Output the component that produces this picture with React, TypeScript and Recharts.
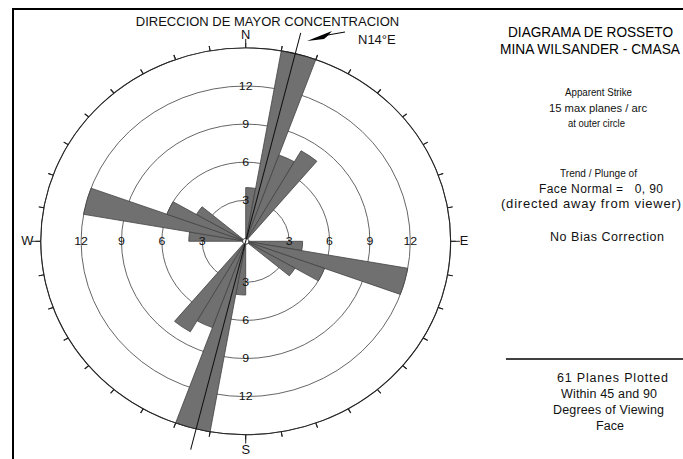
import React from 'react';
import { RadialBarChart, RadialBar, PolarAngleAxis, PolarRadiusAxis, PolarGrid } from 'recharts';

// rumbo de inicio de cada intervalo de 10° (azimut, sentido horario desde N)
const bins = [
  '0', '10', '20', '30', '40', '50', '60', '70', '80',
  '90', '100', '110', '120', '130', '140', '150', '160', '170',
  '180', '190', '200', '210', '220', '230', '240', '250', '260',
  '270', '280', '290', '300', '310', '320', '330', '340', '350',
];

const planos = [
  4, 15, 7, 8, 0, 0, 0, 0, 0,
  4, 12, 6, 4, 0, 0, 0, 0, 0,
  4, 15, 7, 8, 0, 0, 0, 0, 0,
  4, 12, 6, 4, 0, 0, 0, 0, 0,
];

const ringTicks = [3, 6, 9, 12, 15];
const ringLabels = [3, 6, 9, 12];
const cardinal: Record<number, string> = { 0: 'N', 90: 'E', 180: 'S', 270: 'W' };

const maxDir = 14; // N14°E

const FONT = '"Liberation Sans", Arial, Helvetica, sans-serif';
const CX = 245.7;
const CY = 241.3;
const R = 199;
const R0 = 3;

const data = bins.map((b, i) => ({ rumbo: b, planos: planos[i] }));

// marcas cada 10° en el círculo exterior + letras de los puntos cardinales
const CompassTick = (props: any) => {
  const x = Number(props.x);
  const y = Number(props.y);
  const ang = Number(props.payload.coordinate);
  const a = (ang * Math.PI) / 180;
  const dx = Math.cos(a);
  const dy = -Math.sin(a);
  const az = Math.round((((90 - ang) % 360) + 360) % 360) % 360;
  const label = cardinal[az];
  const ext = label ? 4 : 0;
  const d = `M${(x - dx * 5).toFixed(2)},${(y - dy * 5).toFixed(2)}L${(x + dx * ext).toFixed(2)},${(y + dy * ext).toFixed(2)}`;
  const off = label === 'S' ? 11 : 8;
  return (
    <g>
      <path d={d} stroke="#222" strokeWidth={1} fill="none" />
      {label && (
        <text x={x + dx * off} y={y + dy * off} textAnchor="middle" dominantBaseline="central" fontSize={12.5} fontFamily={FONT} fill="#111">
          {label}
        </text>
      )}
    </g>
  );
};

// etiquetas de los anillos en las cuatro direcciones
const RingTick = (props: any) => {
  const { x, y, payload } = props;
  if (!ringLabels.includes(payload.value)) return null;
  const r = payload.coordinate;
  const cx = x;
  const cy = y + r;
  const pts = [
    [cx, cy - r],
    [cx + r, cy],
    [cx, cy + r],
    [cx - r, cy],
  ];
  return (
    <g>
      {pts.map(([px, py], i) => (
        <text key={i} x={px} y={py} textAnchor="middle" dominantBaseline="central" fontSize={12} fontFamily={FONT} fill="#111">
          {payload.value}
        </text>
      ))}
    </g>
  );
};

const App: React.FC = () => {
  const rad = (maxDir * Math.PI) / 180;
  const L = R * 1.11;
  const ux = Math.sin(rad);
  const uy = -Math.cos(rad);

  return (
    <div style={{ position: 'absolute', left: 0, top: 0, width: 683, height: 459, background: '#fff', overflow: 'hidden', fontFamily: FONT }}>
      <div
        style={{
          position: 'absolute',
          left: 0,
          top: 0,
          width: 500,
          height: 490,
          transform: 'scale(1.03, 0.972)',
          transformOrigin: `${CX}px ${CY}px`,
        }}
      >
        <RadialBarChart
          width={500}
          height={490}
          data={data}
          cx={CX}
          cy={CY}
          innerRadius={R0}
          outerRadius={R}
          startAngle={80}
          endAngle={-280}
          layout="centric"
          barCategoryGap={0}
          barGap={0}
          margin={{ top: 0, right: 0, bottom: 0, left: 0 }}
        >
          <PolarGrid gridType="circle" radialLines={false} stroke="#555" strokeWidth={0.9} />
          <PolarRadiusAxis
            type="number"
            angle={90}
            domain={[0, 15]}
            ticks={ringTicks}
            allowDataOverflow
            axisLine={false}
            tickLine={false}
            tick={RingTick}
          />
          <RadialBar dataKey="planos" fill="#707070" stroke="#444" strokeWidth={0.8} isAnimationActive={false} />
          <PolarAngleAxis
            type="category"
            dataKey="rumbo"
            ticks={bins}
            stroke="#222"
            axisLineType="circle"
            axisLine={{ stroke: '#222', strokeWidth: 1 }}
            tickLine={{ stroke: '#222', strokeWidth: 1 }}
            tickSize={5}
            tick={CompassTick}
          />
        </RadialBarChart>
        <svg width={500} height={490} style={{ position: 'absolute', left: 0, top: 0, pointerEvents: 'none' }}>
          <line x1={CX + ux * L} y1={CY + uy * L} x2={CX - ux * L} y2={CY - uy * L} stroke="#111" strokeWidth={1} />
        </svg>
      </div>

      <svg width={683} height={459} style={{ position: 'absolute', left: 0, top: 0, pointerEvents: 'none' }} fontFamily={FONT}>
        <line x1={12} y1={9} x2={683} y2={9} stroke="#000" strokeWidth={2} />
        <line x1={13} y1={8} x2={13} y2={459} stroke="#000" strokeWidth={2} />
        <line x1={506} y1={359} x2={683} y2={359} stroke="#000" strokeWidth={1.5} />

        <text x={267.5} y={26} textAnchor="middle" fontSize={13} fill="#111">DIRECCION DE MAYOR CONCENTRACION</text>
        <text x={358} y={44} fontSize={13} fill="#111">N14°E</text>
        <polygon points="307,41 332,31 327,36.5 324,39" fill="#000" />
        <line x1={322} y1={36} x2={345} y2={32} stroke="#000" strokeWidth={1} />

        <g fill="#000" textAnchor="middle" fontSize={14}>
          <text x={590.5} y={37} textLength={165} lengthAdjust="spacingAndGlyphs">DIAGRAMA DE ROSSETO</text>
          <text x={590} y={54} textLength={180} lengthAdjust="spacingAndGlyphs">MINA WILSANDER - CMASA</text>
        </g>
        <g fill="#111" textAnchor="middle" fontSize={11.5}>
          <text x={598.5} y={96} textLength={67} lengthAdjust="spacingAndGlyphs">Apparent Strike</text>
          <text x={598} y={112} textLength={98} lengthAdjust="spacingAndGlyphs">15 max planes / arc</text>
          <text x={596.5} y={127} textLength={57} lengthAdjust="spacingAndGlyphs">at outer circle</text>
          <text x={598.5} y={177} textLength={77} lengthAdjust="spacingAndGlyphs">Trend / Plunge of</text>
          <text x={601} y={193} fontSize={12} textLength={124} lengthAdjust="spacing" style={{ whiteSpace: 'pre' }}>Face Normal =   0, 90</text>
          <text x={501} y={208} fontSize={13} textAnchor="start" textLength={180} lengthAdjust="spacing">(directed away from viewer)</text>
          <text x={607} y={241} fontSize={12.5} textLength={114} lengthAdjust="spacing">No Bias Correction</text>
        </g>
        <g fill="#111" textAnchor="middle" fontSize={12.5}>
          <text x={612.5} y={382} textLength={111} lengthAdjust="spacing">61 Planes Plotted</text>
          <text x={609} y={398} textLength={96} lengthAdjust="spacing">Within 45 and 90</text>
          <text x={608.5} y={414} textLength={111} lengthAdjust="spacing">Degrees of Viewing</text>
          <text x={610} y={430}>Face</text>
        </g>
      </svg>
    </div>
  );
};

export default App;
